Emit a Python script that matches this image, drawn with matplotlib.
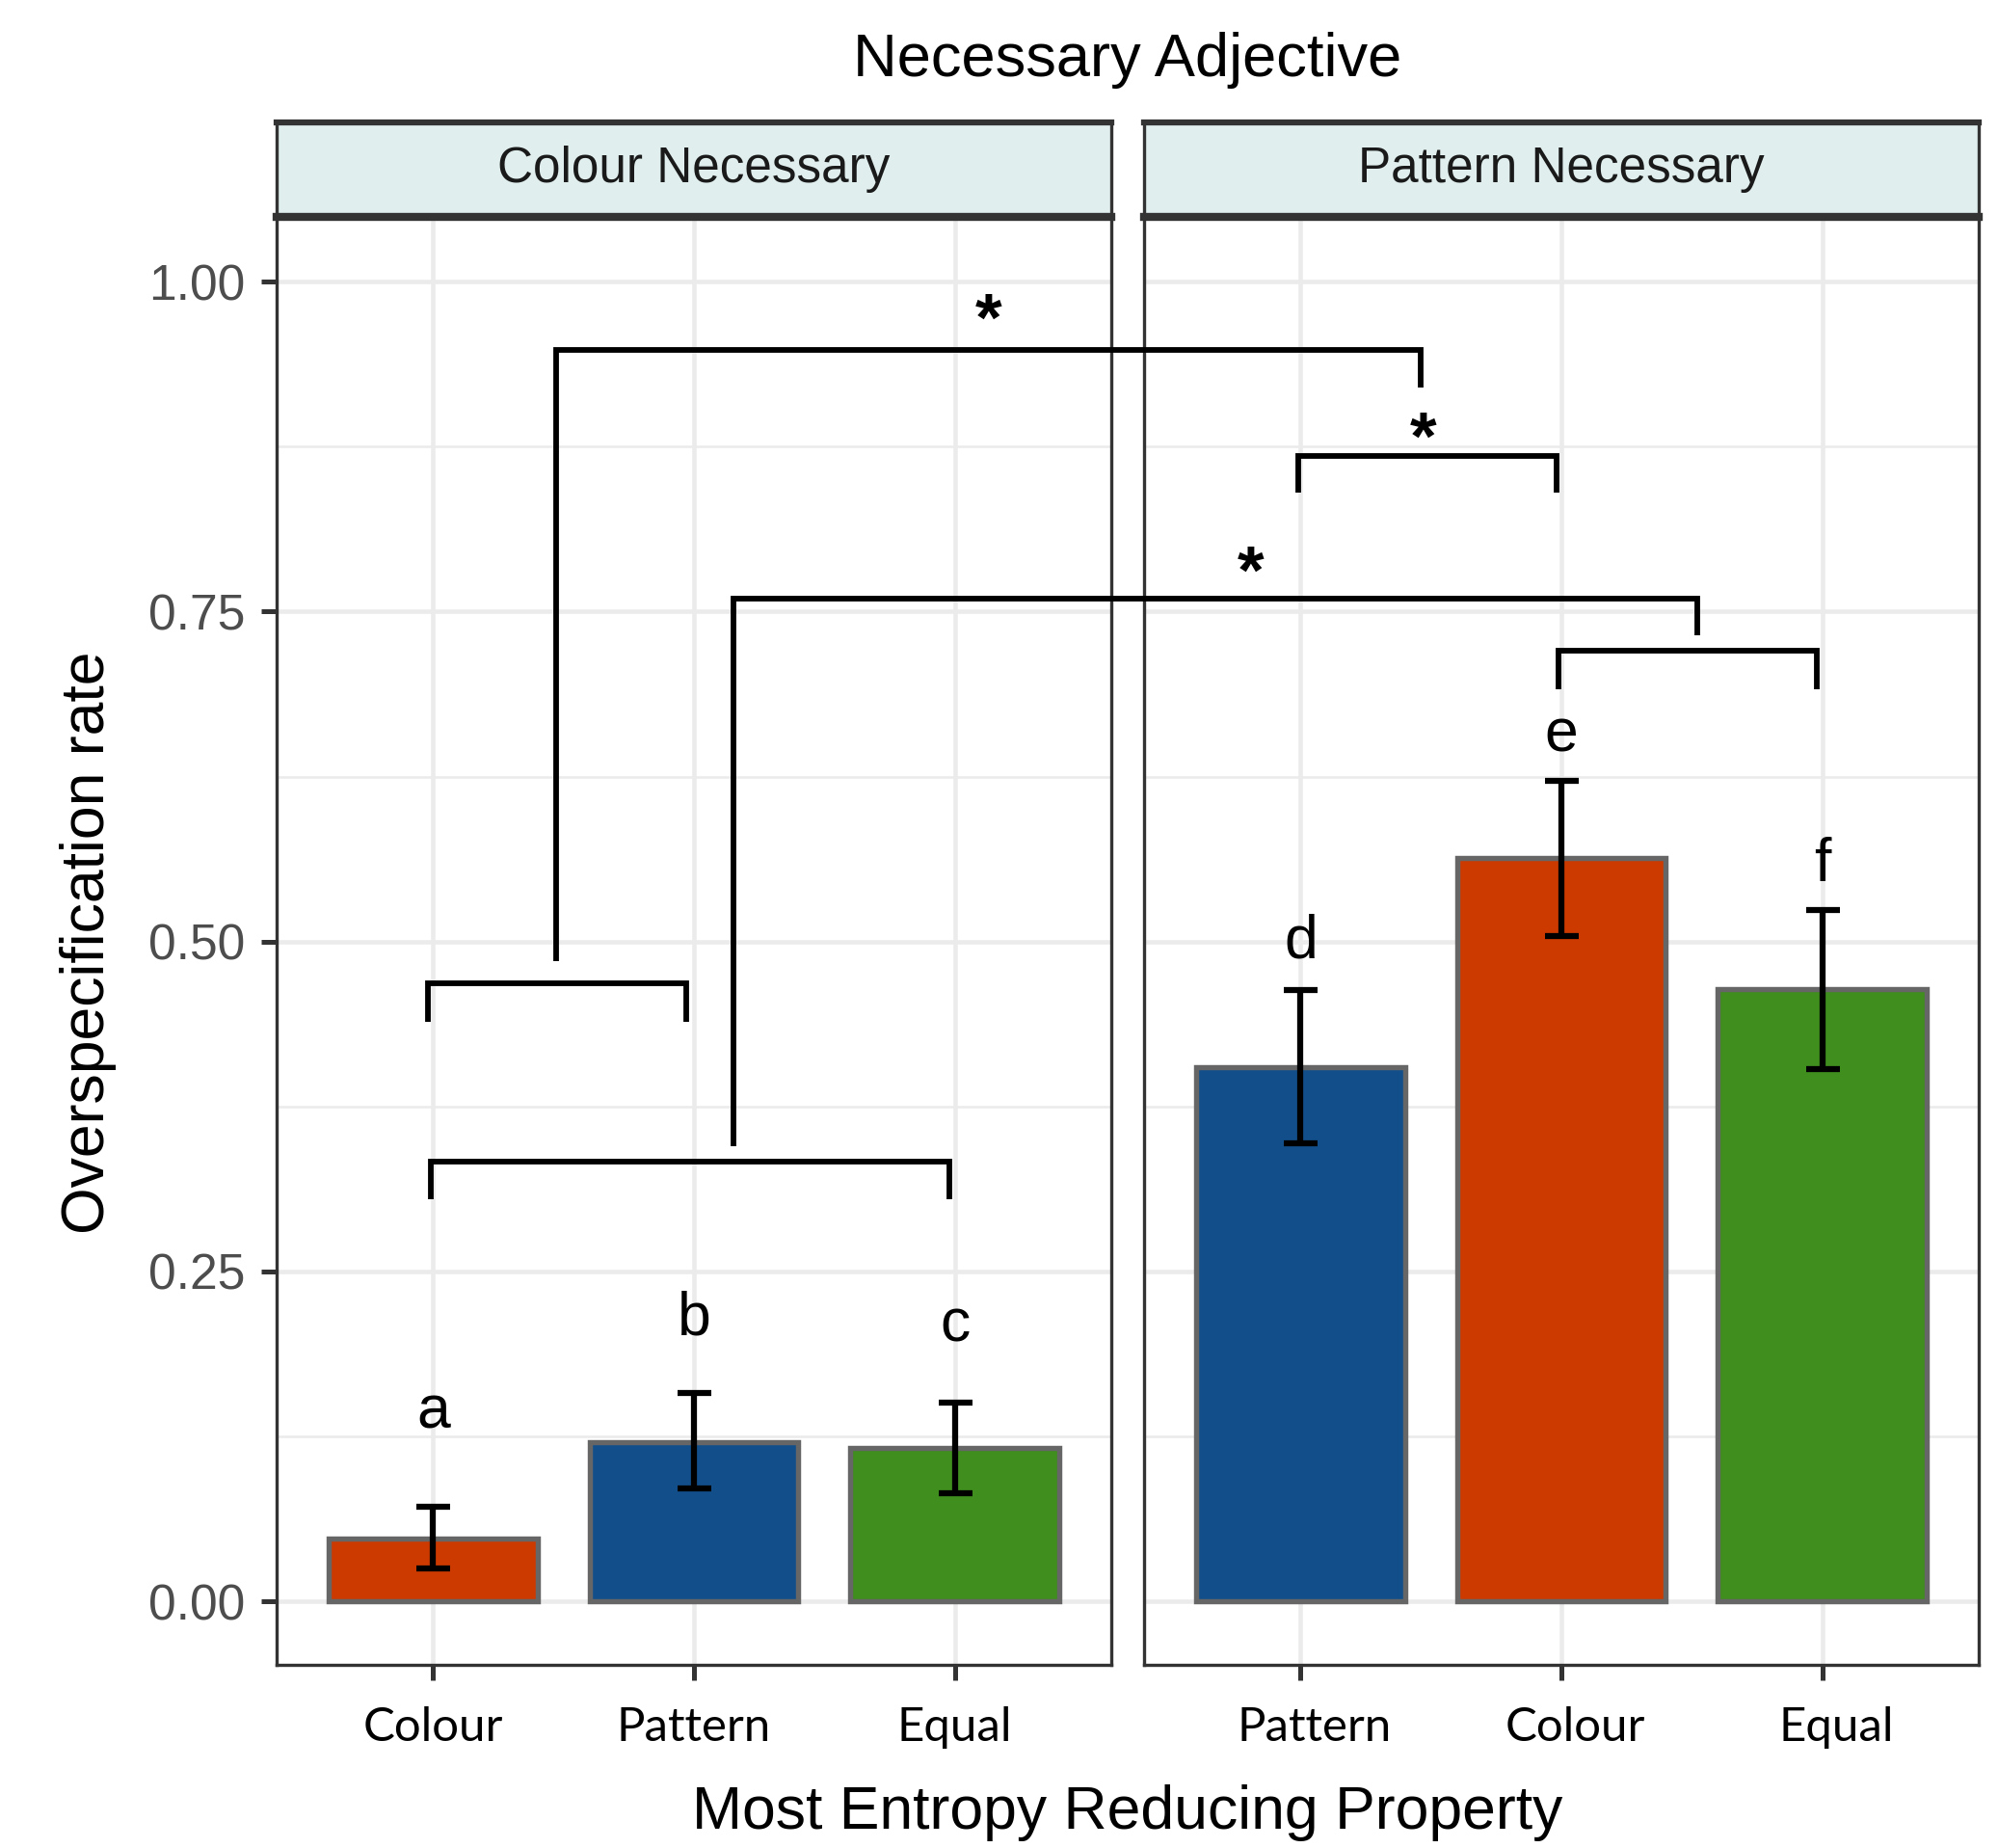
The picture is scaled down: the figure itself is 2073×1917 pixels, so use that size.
import numpy as np
import matplotlib
matplotlib.use("Agg")
import matplotlib.pyplot as plt
import matplotlib.transforms as mtransforms
from matplotlib.lines import Line2D

plt.rcParams['font.family'] = ['Liberation Sans', 'DejaVu Sans']

# data
panels = ['Colour Necessary', 'Pattern Necessary']
left_cats = ['Colour', 'Pattern', 'Equal']
left_means = [0.048, 0.121, 0.116]
left_lo = [0.025, 0.086, 0.082]
left_hi = [0.072, 0.158, 0.151]
left_letters = ['a', 'b', 'c']
left_letter_y = [0.131, 0.202, 0.197]

right_cats = ['Pattern', 'Colour', 'Equal']
right_means = [0.405, 0.563, 0.464]
right_lo = [0.347, 0.504, 0.403]
right_hi = [0.463, 0.622, 0.524]
right_letters = ['d', 'e', 'f']
right_letter_y = [0.488, 0.644, 0.546]

cat_colors = {'Colour': '#CC3A00', 'Pattern': '#124F8A', 'Equal': '#3F8E1E'}

# significance brackets: list of (panel, x, y) points for each path
brackets = [
    [(0, 0.98, 0.439), (0, 0.98, 0.468), (0, 1.97, 0.468), (0, 1.97, 0.439)],
    [(0, 1.47, 0.485), (0, 1.47, 0.948), (1, 1.46, 0.948), (1, 1.46, 0.920)],
    [(0, 0.99, 0.305), (0, 0.99, 0.333), (0, 2.98, 0.333), (0, 2.98, 0.305)],
    [(0, 2.15, 0.345), (0, 2.15, 0.760), (1, 2.52, 0.760), (1, 2.52, 0.732)],
    [(1, 0.99, 0.840), (1, 0.99, 0.868), (1, 1.98, 0.868), (1, 1.98, 0.840)],
    [(1, 1.99, 0.691), (1, 1.99, 0.720), (1, 2.98, 0.720), (1, 2.98, 0.691)],
]
stars = [(0, 3.13, 0.968), (1, 1.47, 0.878), (1, 0.81, 0.777)]

W, H = 2073, 1917
fig = plt.figure(figsize=(W / 300, H / 300), dpi=300)

ax_bottom = (H - 1727) / H
ax_height = (1727 - 225) / H
strip_h = (225 - 127) / H
lefts = [287 / W, 1187 / W]
width = 866 / W

axes = []
for i, name in enumerate(panels):
    ax = fig.add_axes([lefts[i], ax_bottom, width, ax_height])
    axes.append(ax)
    sax = fig.add_axes([lefts[i], ax_bottom + ax_height, width, strip_h])
    sax.set_facecolor('#E0EEEE')
    sax.set_xticks([])
    sax.set_yticks([])
    for side, lw in [('top', 1.5), ('bottom', 2.0), ('left', 0.8), ('right', 0.8)]:
        sax.spines[side].set_linewidth(lw)
        sax.spines[side].set_color('#333333')
    sax.text(0.5, 0.5, name, ha='center', va='center', fontsize=12.3,
             color='#1A1A1A', transform=sax.transAxes)

data = [
    (left_cats, left_means, left_lo, left_hi, left_letters, left_letter_y),
    (right_cats, right_means, right_lo, right_hi, right_letters, right_letter_y),
]

for i, ax in enumerate(axes):
    cats, means, lo, hi, letters, ly = data[i]
    x = np.arange(1, len(cats) + 1)
    ax.set_xlim(0.4, 3.6)
    ax.set_ylim(-0.048, 1.049)
    ax.bar(x, means, width=0.8, color=[cat_colors[c] for c in cats],
           edgecolor='#666666', linewidth=1.3, zorder=3)
    means_a = np.array(means)
    yerr = [means_a - np.array(lo), np.array(hi) - means_a]
    ax.errorbar(x, means, yerr=yerr, fmt='none', ecolor='black',
                elinewidth=1.5, capsize=4.2, capthick=1.5, zorder=4)
    for xi, lab, yy in zip(x, letters, ly):
        ax.text(xi, yy, lab, ha='center', va='baseline', fontsize=15, zorder=5)
    ax.set_xticks(x)
    ax.set_xticklabels(cats, fontfamily='Lato', fontsize=11.8, color='black')
    ax.set_yticks([0, 0.25, 0.5, 0.75, 1.0])
    ax.set_yticks([0.125, 0.375, 0.625, 0.875], minor=True)
    ax.grid(True, which='major', color='#EBEBEB', linewidth=1.1, zorder=0)
    ax.grid(True, which='minor', axis='y', color='#EBEBEB', linewidth=0.6, zorder=0)
    ax.set_axisbelow(True)
    ax.tick_params(axis='x', which='major', length=3.8, width=1.2, color='#333333', pad=6.5)
    ax.tick_params(axis='y', which='minor', length=0)
    if i == 0:
        ax.set_yticklabels(['0.00', '0.25', '0.50', '0.75', '1.00'])
        ax.tick_params(axis='y', which='major', length=3.8, width=1.2,
                       color='#333333', labelcolor='#4D4D4D', labelsize=12.4, pad=4)
    else:
        ax.tick_params(axis='y', which='major', length=0, labelleft=False)
        # labels in the reference sit a bit right of their ticks here
        shift = mtransforms.ScaledTranslation(3.5 / 72, 0, fig.dpi_scale_trans)
        for lab in ax.get_xticklabels():
            lab.set_transform(lab.get_transform() + shift)
    for s in ax.spines.values():
        s.set_color('#333333')
        s.set_linewidth(0.8)


def to_fig(p):
    panel, xx, yy = p
    disp = axes[panel].transData.transform((xx, yy))
    return fig.transFigure.inverted().transform(disp)


for path in brackets:
    pts = np.array([to_fig(p) for p in path])
    fig.add_artist(Line2D(pts[:, 0], pts[:, 1], transform=fig.transFigure,
                          color='black', linewidth=1.4, solid_joinstyle='miter',
                          solid_capstyle='butt', zorder=10))

for s in stars:
    fx, fy = to_fig(s)
    fig.text(fx, fy, '*', ha='center', va='center', fontsize=17,
             fontweight='bold', zorder=10)

fig.text(1170 / W, 1 - 62 / H, 'Necessary Adjective', ha='center', va='center', fontsize=15.2)
fig.text(92 / W, 1 - 978 / H, 'Overspecification rate', ha='center', va='center',
         rotation=90, fontsize=15)
fig.text(1170 / W, 1 - 1881 / H, 'Most Entropy Reducing Property', ha='center',
         va='center', fontsize=15)

fig.savefig('out.png', dpi=300)
